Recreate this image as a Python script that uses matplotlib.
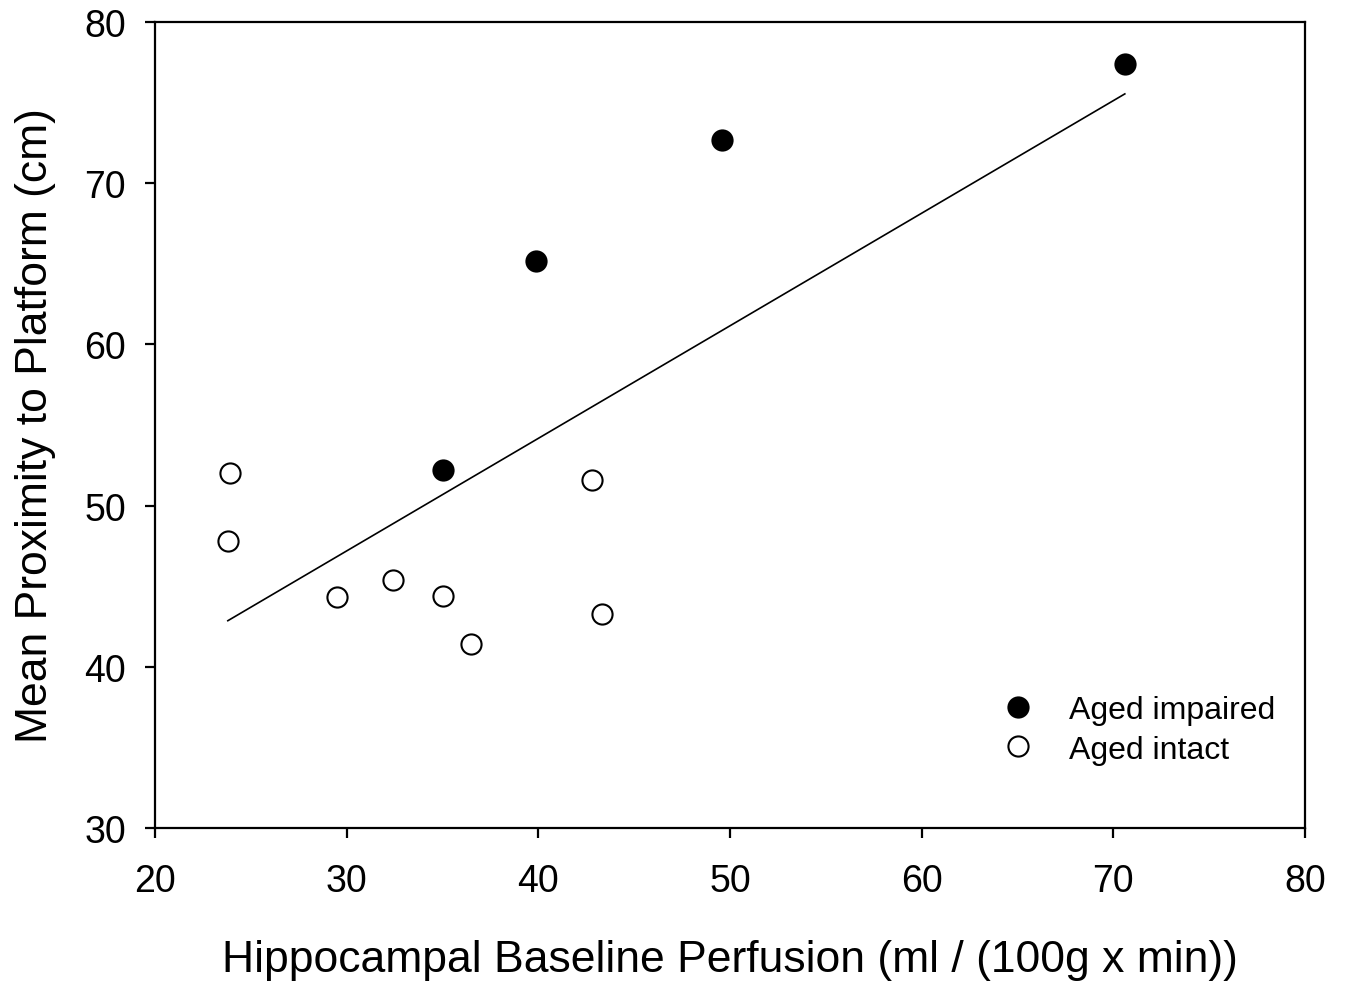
import numpy as np
import matplotlib
matplotlib.use("Agg")
import matplotlib.pyplot as plt

plt.rcParams['font.family'] = ['Liberation Sans', 'DejaVu Sans']

impaired_x = [35.0, 39.9, 49.6, 70.6]
impaired_y = [52.2, 65.2, 72.7, 77.4]
intact_x = [23.9, 23.8, 29.5, 32.4, 35.0, 36.5, 42.8, 43.3]
intact_y = [52.0, 47.8, 44.3, 45.4, 44.4, 41.4, 51.6, 43.3]

xticks = [20, 30, 40, 50, 60, 70, 80]
yticks = [30, 40, 50, 60, 70, 80]

fig = plt.figure(figsize=(13.49, 9.87), dpi=100)
ax = fig.add_axes([155/1349, 1-829/987, (1305-155)/1349, (829-23)/987])

all_x = np.array(impaired_x + intact_x)
all_y = np.array(impaired_y + intact_y)
slope, intercept = np.polyfit(all_x, all_y, 1)
fx = np.array([all_x.min(), all_x.max()])
ax.plot(fx, slope*fx + intercept, color='black', lw=1.2, zorder=1)

ax.plot(impaired_x, impaired_y, 'o', ms=14.5, mfc='black', mec='black', mew=1.5,
        ls='none', label='Aged impaired', zorder=3)
ax.plot(intact_x, intact_y, 'o', ms=14.5, mfc='white', mec='black', mew=1.5,
        ls='none', label='Aged intact', zorder=3)

ax.set_xlim(20, 80)
ax.set_ylim(30, 80)
ax.set_xticks(xticks)
ax.set_yticks(yticks)
for s in ax.spines.values():
    s.set_linewidth(1.6)
ax.tick_params(direction='out', length=7, width=1.6, labelsize=27, top=False, right=False)
ax.tick_params(axis='x', pad=18)
ax.tick_params(axis='y', pad=14)

ax.set_xlabel('Hippocampal Baseline Perfusion (ml / (100g x min))', fontsize=32, labelpad=29)
ax.set_ylabel('Mean Proximity to Platform (cm)', fontsize=32, labelpad=20)

leg = ax.legend(loc='lower right', bbox_to_anchor=(0.999, 0.043), frameon=False, fontsize=23,
                handletextpad=1.1, labelspacing=0.3, handlelength=1.0)

fig.savefig('out.png', dpi=100)
